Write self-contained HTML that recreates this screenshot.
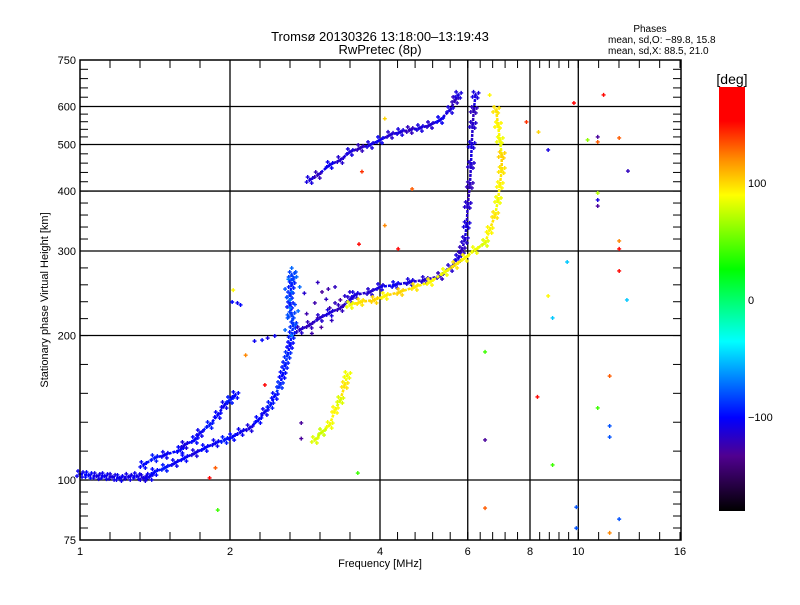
<!DOCTYPE html>
<html><head><meta charset="utf-8"><style>
body{margin:0;background:#fff}
svg text{font-family:"Liberation Sans",sans-serif;fill:#000}
</style></head><body>
<svg id="chart" width="800" height="600" xmlns="http://www.w3.org/2000/svg">
<defs>
<linearGradient id="cbar" x1="0" y1="0" x2="0" y2="1">
<stop offset="0" stop-color="#ff0000"/><stop offset="0.08" stop-color="#ff0000"/>
<stop offset="0.17" stop-color="#ff8c00"/><stop offset="0.255" stop-color="#ffff00"/>
<stop offset="0.43" stop-color="#00ff00"/><stop offset="0.6" stop-color="#00ffff"/>
<stop offset="0.78" stop-color="#0000ff"/><stop offset="0.87" stop-color="#500090"/>
<stop offset="1" stop-color="#000000"/>
</linearGradient>
</defs>
<text x="380" y="41" font-size="13" text-anchor="middle">Tromsø 20130326 13:18:00–13:19:43</text>
<text x="380" y="54" font-size="13" text-anchor="middle">RwPretec (8p)</text>
<text x="650" y="32" font-size="10" text-anchor="middle">Phases</text>
<text x="608" y="43" font-size="10">mean, sd,O: −89.8, 15.8</text>
<text x="608" y="54" font-size="10">mean, sd,X:  88.5, 21.0</text>
<g id="grid"></g>
<g id="marks"></g>
<rect x="80" y="60" width="601" height="480" fill="none" stroke="#000" stroke-width="1.5"/>
<g id="ticks"></g>
<text x="380" y="567" font-size="11" text-anchor="middle">Frequency [MHz]</text>
<text x="48" y="300" font-size="11" text-anchor="middle" transform="rotate(-90 48 300)">Stationary phase Virtual Height [km]</text>
<rect x="719" y="87" width="26" height="424" fill="url(#cbar)"/>
<text x="732" y="84" font-size="14" text-anchor="middle">[deg]</text>
<g id="cbticks"></g>
</svg>
<script>
const xTicks=[1,2,4,6,8,10,16];
const yTicks=[75,100,200,300,400,500,600,750];
const xGrid=[2,4,6,8,10];
const yGrid=[100,200,300,400,500,600];
const cbLabels=[100,0,-100];
// series: frequency (MHz), height (km), phase (deg)
const oLowF=[1.00,1.04,1.08,1.12,1.16,1.20,1.25,1.30,1.34,1.38,1.41,1.48,1.55,1.62,1.70,1.78,1.87,1.95,2.02,2.10,2.19,2.28,2.35,2.41,2.46,2.52,2.55,2.58,2.61,2.64,2.66,2.68,2.66,2.64,2.64,2.66,2.66];
const oLowH=[102.9,102.4,101.9,101.9,101.5,101.0,101.5,101.9,101.0,101.5,103.9,106.0,108.5,111.1,113.8,116.6,119.4,121.2,122.9,125.9,128.3,133.4,138.6,143.3,149.6,157.8,165.5,173.6,182.2,191.1,200.5,210.4,220.8,231.6,242.9,254.9,267.4];
const oLowP=[-105,-100,-108,-105,-110,-105,-108,-105,-110,-105,-100,-95,-105,-100,-110,-100,-105,-95,-100,-105,-110,-100,-105,-95,-100,-90,-100,-95,-90,-100,-95,-90,-85,-95,-90,-95,-85];
const oUpF=[1.34,1.41,1.48,1.59,1.62,1.70,1.74,1.82,1.89,1.95,2.00,2.05];
const oUpH=[107.5,111.1,112.8,115.5,118.3,121.2,125.3,130.2,136.6,143.3,146.8,150.4];
const oUpP=[-100,-95,-105,-100,-110,-100,-105,-95,-100,-105,-95,-100];
const bF=[2.02,2.07,2.10,2.24,2.32,2.38,2.46];
const bH=[234.9,233.8,231.6,194.8,195.7,197.6,199.6];
const bP=[-100,-105,-100,-105,-100,-110,-105];
const cloudF=[2.58,2.61,2.64,2.66,2.68,2.71,2.76,2.64,2.61,2.66,2.71,2.62,2.70,2.58,2.74,2.66,2.60,2.72];
const cloudH=[205.4,217.6,228.3,246.5,261.1,271.3,252.5,237.2,220.8,276.5,210.4,262,232,250,225,200,240,265];
const cloudP=[-75,-80,-70,-75,-85,-80,-75,-70,-80,-75,-80,-70,-85,-80,-75,-70,-80,-75];
const purpF=[2.76,2.89,3.00,3.17,3.25,3.33,3.40,2.96,3.06,3.25,3.48,2.85,3.12,2.92,3.05,3.20,3.36,2.82,3.00,3.15];
const purpH=[205.4,210.4,217.6,228.3,233.8,237.2,241.8,233.8,246.5,252.5,246.5,222,238,202,208,215,230,245,258,250];
const purpP=[-125,-120,-130,-125,-120,-130,-115,-125,-130,-120,-115,-125,-120,-125,-130,-120,-125,-115,-120,-125];
const cF=[2.76,2.89,3.03,3.17,3.33,3.48,3.56,3.82,4.00,4.29,4.59,4.92,5.28,5.53,5.74,5.84,5.92,5.97,6.00,6.06,6.09,6.11,6.14,6.17,6.22];
const cH=[205.4,210.4,217.6,223.0,228.3,237.2,242.9,246.5,252.5,254.9,258.5,261.1,266.1,276.5,290.1,301.4,316.3,340.0,374.1,411.8,453.2,498.9,549.1,590.1,634.3];
const cP=[-115,-120,-115,-110,-120,-115,-110,-115,-110,-105,-110,-115,-120,-115,-110,-120,-115,-110,-115,-120,-115,-110,-115,-120,-110];
const dF=[3.48,3.65,3.90,4.09,4.39,4.70,5.04,5.40,5.66,5.92,6.20,6.50,6.64,6.81,6.90,6.96,7.02,7.02,6.96,6.90,6.84];
const dH=[231.6,234.9,237.2,241.8,246.5,252.5,258.5,271.3,280.6,290.1,301.4,311.8,331.8,356.6,383.2,411.8,442.5,475.6,511.0,549.1,590.1];
const dP=[85,95,100,90,100,95,90,85,95,90,85,80,90,95,85,90,95,100,85,90,95];
const eF=[2.89,3.00,3.17,3.33,3.48,3.65,3.82,4.00,4.19,4.39,4.59,4.81,5.04,5.28,5.53,5.66,5.74];
const eH=[421.7,431.9,453.2,464.3,482.4,491.8,498.9,511.0,523.6,530.9,536.1,541.2,549.1,562.4,590.1,619.1,634.3];
const eP=[-110,-120,-105,-115,-110,-120,-110,-105,-115,-110,-120,-110,-115,-105,-110,-120,-110];
const fF=[2.96,3.06,3.17,3.25,3.33,3.40,3.44];
const fH=[121.2,125.9,130.2,140.0,146.8,157.8,165.5];
const fP=[80,75,85,90,80,95,85];
const sF=[11.24,9.80,7.87,8.32,8.70,10.44,10.94,10.94,12.08,12.58,10.94,10.94,10.94,12.08,12.08,9.50,12.08,8.70,12.52,8.88,11.56,8.28,10.94,11.56,11.56,8.88,9.91,9.91,12.08,11.56,6.50,6.50,6.50,1.89,1.82,1.87,2.03,2.35,2.15,2.78,2.78,3.61,3.63,4.64,4.09,4.35,3.68,4.09,6.64];
const sH=[634.3,610.2,557.1,530.9,487.1,511.0,518.6,506.2,516.0,440.3,396.2,383.2,372.2,314.8,303.0,284.6,272.6,241.8,237.2,217.6,164.7,149.0,141.3,129.6,122.9,107.5,87.8,79.4,82.9,77.6,184.9,121.2,87.4,86.6,101.0,106.0,248.7,157.8,182.0,131.5,122.0,103.4,310.0,404.0,339.0,303.0,439.0,566.0,634.0];
const sP=[150,170,140,100,-110,60,-130,130,130,-120,70,-110,-130,120,160,-50,150,90,-50,-50,130,150,40,-80,-80,40,-80,-80,-80,120,40,-130,130,40,170,130,90,170,120,-130,-130,40,150,130,120,160,140,100,90];

const X=f=>80+150*Math.log2(f);
const Y=h=>540-480*Math.log10(h/75);
const stops=[[0,[255,0,0]],[0.08,[255,0,0]],[0.17,[255,140,0]],[0.255,[255,255,0]],[0.43,[0,255,0]],[0.6,[0,255,255]],[0.78,[0,0,255]],[0.87,[80,0,144]],[1,[0,0,0]]];
function col(p){const t=Math.min(1,Math.max(0,(180-p)/360));
 for(let i=1;i<stops.length;i++){if(t<=stops[i][0]){const a=stops[i-1],b=stops[i];const u=(t-a[0])/((b[0]-a[0])||1);
  const c=a[1].map((v,k)=>Math.round(v+(b[1][k]-v)*u));return `rgb(${c})`;}}return 'rgb(0,0,0)';}
const NS='http://www.w3.org/2000/svg';
function mk(tag,attrs,parent){const e=document.createElementNS(NS,tag);for(const k in attrs)e.setAttribute(k,attrs[k]);parent.appendChild(e);return e;}
const grid=document.getElementById('grid'),marks=document.getElementById('marks'),ticks=document.getElementById('ticks'),cb=document.getElementById('cbticks');
xGrid.forEach(v=>{const l=mk('line',{x1:X(v),x2:X(v),y1:60,y2:540,stroke:'#000','stroke-width':1.3},grid);
 
 });
yGrid.forEach(v=>{const l=mk('line',{x1:80,x2:681,y1:Y(v),y2:Y(v),stroke:'#000','stroke-width':1.3},grid);
 
 });
// marker style: small plus-glyph cluster (visual speckle, not data)
const speck=[[0,0],[-3,2],[3,-2],[-2,-3],[2,3]];
function series(F,H,P,name,line){
 if(line){for(let i=1;i<F.length;i++){const s=mk('line',{x1:X(F[i-1]),y1:Y(H[i-1]),x2:X(F[i]),y2:Y(H[i]),stroke:col(P[i]),'stroke-width':2.5,'stroke-dasharray':'3 1'},marks);
  
  }}
 for(let i=0;i<F.length;i++){const x=X(F[i]),y=Y(H[i]);
  const offs=line?speck:speck.slice(0,1);
  let d='';offs.forEach(o=>{const a=x+o[0],b=y+o[1];d+=`M${a-2},${b}h4M${a},${b-2}v4`;});
  const p=mk('path',{d:d,stroke:col(P[i]),'stroke-width':1.4},marks);
  
  }}
series(oLowF,oLowH,oLowP,'o-low-trace',true);
series(oUpF,oUpH,oUpP,'o-upper-trace',true);
series(bF,bH,bP,'f1-fragment',false);
series(cloudF,cloudH,cloudP,'spread-cloud',false);
series(purpF,purpH,purpP,'purple-cloud',false);
series(cF,cH,cP,'o-f2-trace',true);
series(dF,dH,dP,'x-f2-trace',true);
series(eF,eH,eP,'oblique-trace',true);
series(fF,fH,fP,'x-low-fragment',true);
series(sF,sH,sP,'scatter',false);
function minor(arr,fn,horiz){for(let i=1;i<arr.length;i++){const a=fn(arr[i-1]),b=fn(arr[i]);
 for(let k=0;k<=5;k++){const p=a+(b-a)*k/5;
  if(horiz){mk('line',{x1:p,x2:p,y1:540,y2:532,stroke:'#000'},ticks);mk('line',{x1:p,x2:p,y1:60,y2:68,stroke:'#000'},ticks);}
  else{mk('line',{x1:80,x2:88,y1:p,y2:p,stroke:'#000'},ticks);mk('line',{x1:681,x2:673,y1:p,y2:p,stroke:'#000'},ticks);}}}}
minor(xTicks,X,true);minor(yTicks,Y,false);
xTicks.forEach(v=>{const t=mk('text',{x:X(v),y:555,'font-size':11,'text-anchor':'middle'},ticks);t.textContent=v;
 
 });
yTicks.forEach(v=>{const t=mk('text',{x:76,y:Y(v)+4,'font-size':11,'text-anchor':'end'},ticks);t.textContent=v;
 
 });
cbLabels.forEach(v=>{const y=300-v*1.17;const t=mk('text',{x:748,y:y+4,'font-size':11},cb);t.textContent=v===-100?'−100':v;
 
 });
</script>
</body></html>
